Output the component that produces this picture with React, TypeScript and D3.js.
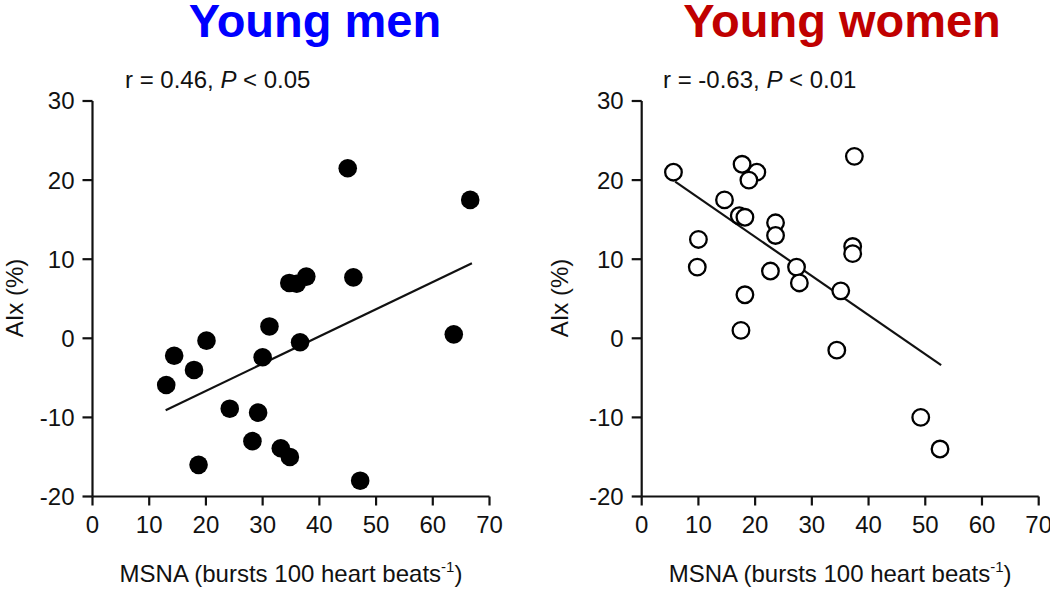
import React from "react";
import * as d3 from "d3";

// ---- Data ----
const xTicks = [0, 10, 20, 30, 40, 50, 60, 70];
const yTicks = [-20, -10, 0, 10, 20, 30];

const menX = [45.0, 66.6, 37.7, 34.7, 36.0, 46.0, 63.7, 31.2, 36.6, 20.1, 14.4, 30.0, 17.9, 13.0, 24.2, 29.2, 28.2, 33.2, 34.8, 18.7, 47.2];
const menY = [21.5, 17.5, 7.8, 7.0, 6.9, 7.7, 0.5, 1.5, -0.5, -0.3, -2.2, -2.4, -4.0, -5.9, -8.9, -9.4, -13.0, -13.9, -15.0, -16.0, -18.0];
const menFitX = [12.9, 66.9];
const menFitY = [-9.1, 9.5];

const womenX = [5.6, 17.7, 20.3, 18.9, 37.5, 14.6, 17.2, 18.2, 23.6, 23.6, 10.0, 37.2, 37.2, 9.8, 22.7, 27.3, 27.8, 18.2, 35.1, 17.5, 34.4, 49.2, 52.6];
const womenY = [21.0, 22.0, 21.0, 20.0, 23.0, 17.5, 15.5, 15.3, 14.6, 13.0, 12.5, 11.6, 10.7, 9.0, 8.5, 9.0, 7.0, 5.5, 6.0, 1.0, -1.5, -10.0, -14.0];
const womenFitX = [5.9, 52.8];
const womenFitY = [19.8, -3.4];

const FONT = "'Liberation Sans', Arial, sans-serif";
const FS = 24;

type PanelProps = {
  left: number;
  title: string;
  titleColor: string;
  titleX: number;
  rPrefix: string;
  pText: string;
  rX: number;
  xs: number[];
  ys: number[];
  fitX: number[];
  fitY: number[];
  filled: boolean;
  yLabelX: number;
};

function Panel(p: PanelProps) {
  const x = d3.scaleLinear().domain([0, 70]).range([p.left, p.left + 397]);
  const y = d3.scaleLinear().domain([-20, 30]).range([496.5, 101]);
  const x0 = x(0);
  const yB = y(-20);
  const fitLine = d3
    .line<number>()
    .x((_, i) => x(p.fitX[i]))
    .y((_, i) => y(p.fitY[i]));
  return (
    <g>
      <text x={p.titleX} y={37} textAnchor="middle" fontFamily={FONT} fontWeight="bold" fontSize={47} fill={p.titleColor}>
        {p.title}
      </text>
      <text x={p.rX} y={88} fontFamily={FONT} fontSize={FS} fill="#111">
        {p.rPrefix}
        <tspan fontStyle="italic">P</tspan>
        {p.pText}
      </text>
      {/* axes */}
      <line x1={x0} x2={x0} y1={y(30)} y2={yB} stroke="#111" strokeWidth={2.2} />
      <line x1={x0} x2={x(70)} y1={yB} y2={yB} stroke="#111" strokeWidth={2.2} />
      {yTicks.map((t) => (
        <g key={"y" + t}>
          <line x1={x0 - 10} x2={x0} y1={y(t)} y2={y(t)} stroke="#111" strokeWidth={2.2} />
          <text x={x0 - 18} y={y(t)} dy="0.35em" textAnchor="end" fontFamily={FONT} fontSize={FS} fill="#111">
            {t}
          </text>
        </g>
      ))}
      {xTicks.map((t) => (
        <g key={"x" + t}>
          <line x1={x(t)} x2={x(t)} y1={yB} y2={yB + 9} stroke="#111" strokeWidth={2.2} />
          <text x={x(t)} y={533} textAnchor="middle" fontFamily={FONT} fontSize={FS} fill="#111">
            {t}
          </text>
        </g>
      ))}
      <text x={x(35)} y={582} textAnchor="middle" fontFamily={FONT} fontSize={FS} fill="#111">
        MSNA (bursts 100 heart beats
        <tspan fontSize={15} dy={-10}>-1</tspan>
        <tspan dy={10}>)</tspan>
      </text>
      <text
        transform={`translate(${p.yLabelX},${298}) rotate(-90)`}
        textAnchor="middle"
        fontFamily={FONT}
        fontSize={FS}
        fill="#111"
      >
        AIx (%)
      </text>
      {/* regression line */}
      <path d={fitLine(p.fitX) || ""} fill="none" stroke="#111" strokeWidth={2.2} />
      {/* points */}
      {p.xs.map((v, i) => (
        <circle
          key={i}
          cx={x(v)}
          cy={y(p.ys[i])}
          r={p.filled ? 9.3 : 8.3}
          fill={p.filled ? "#000" : "#fff"}
          stroke="#000"
          strokeWidth={p.filled ? 0 : 2.3}
        />
      ))}
    </g>
  );
}

export default function App() {
  return (
    <svg
      width={1050}
      height={592}
      style={{ position: "absolute", left: 0, top: 0, background: "#fff" }}
    >
      <rect width={1050} height={592} fill="#fff" />
      <Panel
        left={92.5}
        title="Young men"
        titleColor="#0000ff"
        titleX={315}
        rPrefix="r = 0.46, "
        pText=" < 0.05"
        rX={125}
        xs={menX}
        ys={menY}
        fitX={menFitX}
        fitY={menFitY}
        filled={true}
        yLabelX={23}
      />
      <Panel
        left={641.7}
        title="Young women"
        titleColor="#c00000"
        titleX={842}
        rPrefix="r = -0.63, "
        pText=" < 0.01"
        rX={663}
        xs={womenX}
        ys={womenY}
        fitX={womenFitX}
        fitY={womenFitY}
        filled={false}
        yLabelX={568}
      />
    </svg>
  );
}
